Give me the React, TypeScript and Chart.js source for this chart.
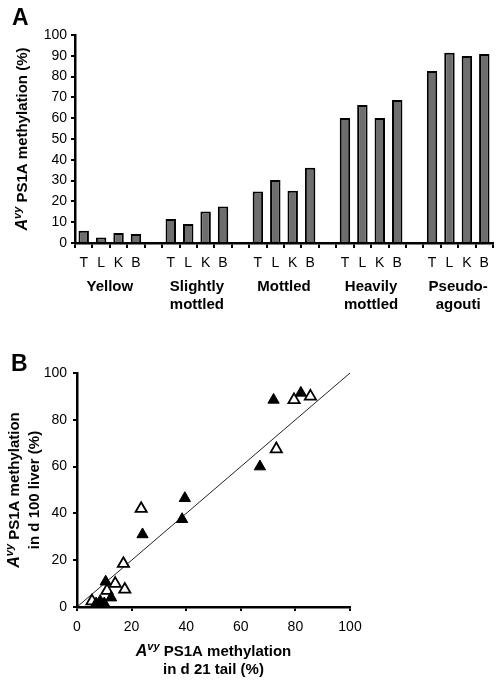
import React, { useEffect, useRef } from "react";
import { Chart, registerables } from "chart.js";
Chart.register(...registerables);

// ---------- Panel A data ----------
const groupNames: string[][] = [["Yellow"], ["Slightly", "mottled"], ["Mottled"], ["Heavily", "mottled"], ["Pseudo-", "agouti"]];
const tissues = ["T", "L", "K", "B"];
const yellow = [5.9, 2.7, 4.8, 4.3];
const slightlyMottled = [11.5, 9.1, 15.2, 17.5];
const mottled = [24.7, 30.3, 25.1, 36.2];
const heavilyMottled = [60.1, 66.3, 60.1, 68.7];
const pseudoAgouti = [82.7, 91.5, 89.9, 90.9];
const groupValues = [yellow, slightlyMottled, mottled, heavilyMottled, pseudoAgouti];

// ---------- Panel B data ----------
const filledTail = [7, 8.5, 10, 12.5, 10.5, 24, 38.5, 39.5, 67, 72, 82];
const filledLiver = [1.5, 2.5, 1.5, 4, 10.8, 31, 37.5, 46.5, 60, 88.5, 91.5];
const openTail = [5.5, 11, 14, 17.5, 17, 23.5, 73, 79.5, 85.5];
const openLiver = [2.5, 7, 10, 7.5, 18.5, 42, 67.5, 88.5, 90];
const lineTail = [0, 100];
const lineLiver = [0, 100];

const FONT = "Arial, 'Liberation Sans', sans-serif";

type Seg = { text: string; font: string; dy?: number };
function drawRich(ctx: CanvasRenderingContext2D, segs: Seg[], cx: number, cy: number, angle: number) {
  ctx.save();
  ctx.translate(cx, cy);
  ctx.rotate(angle);
  let total = 0;
  for (const s of segs) {
    ctx.font = s.font;
    total += ctx.measureText(s.text).width;
  }
  let x = -total / 2;
  ctx.textBaseline = "middle";
  ctx.textAlign = "left";
  ctx.fillStyle = "#000";
  for (const s of segs) {
    ctx.font = s.font;
    ctx.fillText(s.text, x, s.dy || 0);
    x += ctx.measureText(s.text).width;
  }
  ctx.restore();
}
const avy = (size: number, rest: string): Seg[] => [
  { text: "A", font: `italic bold ${size + 1}px ${FONT}` },
  { text: "vy", font: `italic bold ${size - 4}px ${FONT}`, dy: -5 },
  { text: rest, font: `bold ${size}px ${FONT}` },
];

function PanelA() {
  const ref = useRef<HTMLCanvasElement>(null);
  useEffect(() => {
    const labels: string[] = [];
    const data: (number | null)[] = [];
    groupValues.forEach((vals, gi) => {
      tissues.forEach((t, ti) => {
        labels.push(t);
        data.push(vals[ti]);
      });
      if (gi < groupValues.length - 1) {
        labels.push("");
        data.push(null);
      }
    });
    const titles = {
      id: "titlesA",
      afterDraw(chart: any) {
        const ctx = chart.ctx as CanvasRenderingContext2D;
        const { top, bottom } = chart.chartArea;
        const xs = chart.scales.x;
        drawRich(ctx, avy(15, " PS1A methylation (%)"), 23, (top + bottom) / 2, -Math.PI / 2);
        ctx.save();
        ctx.fillStyle = "#000";
        ctx.textAlign = "center";
        ctx.textBaseline = "middle";
        ctx.font = `bold 15px ${FONT}`;
        groupNames.forEach((lines, gi) => {
          const cx = (xs.getPixelForValue(gi * 5 + 1) + xs.getPixelForValue(gi * 5 + 2)) / 2;
          lines.forEach((ln, li) => ctx.fillText(ln, cx, 287 + li * 18));
        });
        ctx.font = `bold 23px ${FONT}`;
        ctx.textAlign = "left";
        ctx.fillText("A", 12, 19);
        ctx.restore();
      },
    };
    const chart = new Chart(ref.current!, {
      type: "bar",
      data: {
        labels,
        datasets: [
          {
            data,
            backgroundColor: "#6e6e6e",
            borderColor: "#000",
            borderWidth: 2,
            categoryPercentage: 1,
            barPercentage: 0.6,
          },
        ],
      },
      options: {
        responsive: false,
        animation: false,
        layout: { padding: { top: 35, right: 6, left: 0, bottom: 0 } },
        plugins: { legend: { display: false }, tooltip: { enabled: false } },
        scales: {
          x: {
            grid: { display: true, drawOnChartArea: false, drawTicks: true, tickLength: 5, color: "#000", lineWidth: 2, offset: true },
            border: { display: true, color: "#000", width: 2.5 },
            ticks: { color: "#000", font: { family: FONT, size: 14 }, padding: 7, autoSkip: false, maxRotation: 0 },
            afterFit: (s: any) => { s.height = 330 - 243; },
          },
          y: {
            min: 0,
            max: 100,
            grid: { display: true, drawOnChartArea: false, drawTicks: true, tickLength: 4, color: "#000", lineWidth: 2 },
            border: { display: true, color: "#000", width: 2.5 },
            ticks: { stepSize: 10, color: "#000", font: { family: FONT, size: 14 }, padding: 4 },
            afterFit: (s: any) => { s.width = 75; },
          },
        },
      },
      plugins: [titles],
    } as any);
    return () => chart.destroy();
  }, []);
  return <canvas ref={ref} width={499} height={330} style={{ position: "absolute", left: 0, top: 0, display: "block" }} />;
}

function PanelB() {
  const ref = useRef<HTMLCanvasElement>(null);
  useEffect(() => {
    const titles = {
      id: "titlesB",
      afterDraw(chart: any) {
        const ctx = chart.ctx as CanvasRenderingContext2D;
        const { top, bottom, left, right } = chart.chartArea;
        const cy = (top + bottom) / 2;
        const cx = (left + right) / 2;
        drawRich(ctx, avy(15, " PS1A methylation"), 15, cy, -Math.PI / 2);
        drawRich(ctx, [{ text: "in d 100 liver (%)", font: `bold 15px ${FONT}` }], 35, cy, -Math.PI / 2);
        drawRich(ctx, avy(15, " PS1A methylation"), cx, 322, 0);
        drawRich(ctx, [{ text: "in d 21 tail (%)", font: `bold 15px ${FONT}` }], cx, 340, 0);
        ctx.save();
        ctx.fillStyle = "#000";
        ctx.textBaseline = "middle";
        ctx.textAlign = "left";
        ctx.font = `bold 23px ${FONT}`;
        ctx.fillText("B", 11, 35);
        ctx.restore();
      },
    };
    const pts = (xs: number[], ys: number[]) => xs.map((x, i) => ({ x, y: ys[i] }));
    const chart = new Chart(ref.current!, {
      type: "scatter",
      data: {
        datasets: [
          {
            type: "line",
            data: pts(lineTail, lineLiver),
            borderColor: "#222",
            borderWidth: 1,
            pointRadius: 0,
            showLine: true,
            order: 3,
            clip: false,
          },
          {
            data: pts(openTail, openLiver),
            pointStyle: "triangle",
            pointRadius: 6.5,
            backgroundColor: "#fff",
            borderColor: "#000",
            borderWidth: 1.8,
            order: 2,
            clip: false,
          },
          {
            data: pts(filledTail, filledLiver),
            pointStyle: "triangle",
            pointRadius: 6.5,
            backgroundColor: "#000",
            borderColor: "#000",
            borderWidth: 1,
            order: 1,
            clip: false,
          },
        ],
      },
      options: {
        responsive: false,
        animation: false,
        layout: { padding: { top: 43, right: 149, left: 0, bottom: 0 } },
        plugins: { legend: { display: false }, tooltip: { enabled: false } },
        scales: {
          x: {
            type: "linear",
            min: 0,
            max: 100,
            grid: { display: true, drawOnChartArea: false, drawTicks: true, tickLength: 4, color: "#000", lineWidth: 2 },
            border: { display: true, color: "#000", width: 2.5 },
            ticks: { stepSize: 20, color: "#000", font: { family: FONT, size: 14 }, padding: 8 },
            afterFit: (s: any) => { s.height = 353 - 277; },
          },
          y: {
            type: "linear",
            min: 0,
            max: 100,
            grid: { display: true, drawOnChartArea: false, drawTicks: true, tickLength: 4, color: "#000", lineWidth: 2 },
            border: { display: true, color: "#000", width: 2.5 },
            ticks: { stepSize: 20, color: "#000", font: { family: FONT, size: 14 }, padding: 6 },
            afterFit: (s: any) => { s.width = 77; },
          },
        },
      },
      plugins: [titles],
    } as any);
    return () => chart.destroy();
  }, []);
  return <canvas ref={ref} width={499} height={353} style={{ position: "absolute", left: 0, top: 330, display: "block" }} />;
}

export default function App() {
  return (
    <div style={{ position: "absolute", left: 0, top: 0, width: 499, height: 683, background: "#fff" }}>
      <PanelA />
      <PanelB />
    </div>
  );
}
